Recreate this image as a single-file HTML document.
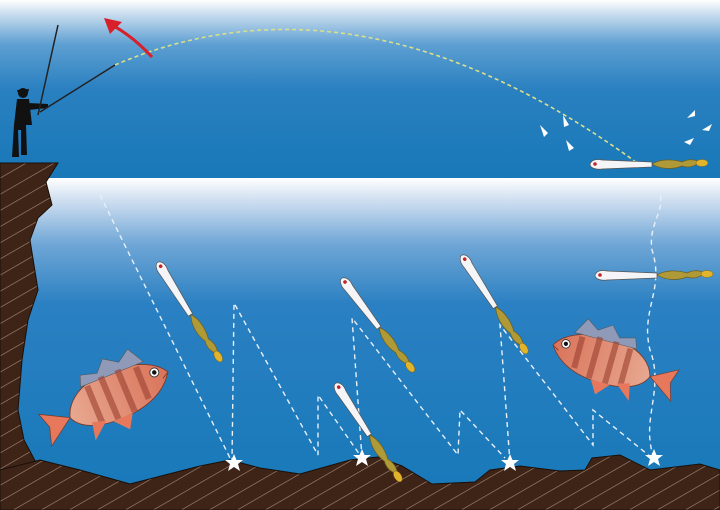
<!DOCTYPE html>
<html><head><meta charset="utf-8"><style>html,body{margin:0;padding:0;width:720px;height:510px;overflow:hidden;background:#fff}</style></head>
<body>
<svg width="720" height="510" viewBox="0 0 720 510" xmlns="http://www.w3.org/2000/svg">
<defs>
<linearGradient id="sky" x1="0" y1="0" x2="0" y2="1">
<stop offset="0" stop-color="#ffffff"/><stop offset="0.08" stop-color="#c8dcee"/><stop offset="0.25" stop-color="#5d9fd2"/><stop offset="0.5" stop-color="#2a80c0"/><stop offset="1" stop-color="#1878b8"/></linearGradient>
<linearGradient id="water" x1="0" y1="0" x2="0" y2="1">
<stop offset="0" stop-color="#ffffff"/><stop offset="0.06" stop-color="#d4e2f2"/><stop offset="0.2" stop-color="#6fa6d6"/><stop offset="0.38" stop-color="#2a80c2"/><stop offset="1" stop-color="#1678b8"/></linearGradient>
<pattern id="rock" width="14" height="14" patternUnits="userSpaceOnUse" patternTransform="rotate(-30)">
<rect width="14" height="14" fill="#3e2417"/><line x1="0" y1="0" x2="14" y2="0" stroke="#a88a78" stroke-width="1.2"/></pattern>
<linearGradient id="fishg" x1="0" y1="0" x2="1" y2="0"><stop offset="0" stop-color="#d9735a"/><stop offset="1" stop-color="#e8a890"/></linearGradient>
<g id="lure">
<path d="M0,0 C2,-5 8,-5 12,-4 L62,-2 L62,3 L12,5 C6,6 0,4 0,0Z" fill="#f5f5f7" stroke="#555" stroke-width="0.7"/>
<circle cx="5" cy="0" r="1.8" fill="#c0262b"/>
<path d="M62,0 C70,-5 82,-5 92,-2 C98,-5 104,-5 110,-2 C104,3 98,4 92,2 C82,6 70,5 62,0Z" fill="#b09a38" stroke="#6d5e1a" stroke-width="0.7"/>
<ellipse cx="112" cy="-1" rx="6" ry="3.5" fill="#e2b42c" stroke="#8a6a10" stroke-width="0.5"/>
</g>
<g id="fish">
<path d="M0,0 C10,-20 45,-32 80,-28 C100,-25 115,-15 120,0 C115,15 95,24 70,25 C40,27 15,20 0,0Z" fill="url(#fishg)" stroke="#7a3a2a" stroke-width="1"/>
<path d="M20,-22 L30,-42 L45,-33 L60,-44 L72,-32 L90,-38 L95,-26Z" fill="#8f9ab8" stroke="#555" stroke-width="0.6"/>
<path d="M30,-20 L32,18 M50,-26 L52,24 M70,-27 L72,24 M88,-24 L90,20" stroke="#9a4030" stroke-width="7" opacity="0.6"/>
<path d="M120,0 L150,-18 L145,0 L152,20Z" fill="#e7785c" stroke="#7a3a2a" stroke-width="0.8"/>
<path d="M55,25 L65,40 L78,24Z M85,20 L105,35 L100,15Z" fill="#e7785c"/>
<circle cx="14" cy="-6" r="5" fill="#fff" stroke="#333"/><circle cx="14" cy="-6" r="2.5" fill="#111"/>
<path d="M0,0 L8,4" stroke="#7a3a2a"/>
</g>
</defs>
<rect width="720" height="178" fill="url(#sky)"/>
<rect y="178" width="720" height="332" fill="url(#water)"/>
<path d="M115,65 Q360,-40 640,165" fill="none" stroke="#d8e08a" stroke-width="1.6" stroke-dasharray="4,3"/>
<path d="M152,57 C138,42 125,32 112,25" fill="none" stroke="#d8202a" stroke-width="3"/>
<path d="M104,18 L122,22 L110,34Z" fill="#d8202a"/>
<g fill="#fff"><path d="M540,125 l8,8 l-4,4z"/><path d="M563,115 l6,10 l-5,2z"/><path d="M566,140 l8,8 l-5,3z"/><path d="M687,118 l8,-8 l0,6z"/><path d="M702,130 l10,-6 l-3,7z"/><path d="M684,142 l10,-4 l-4,7z"/></g>
<g fill="#111">
<circle cx="23" cy="93" r="5"/><path d="M17,90 L29,89 L28,93 L18,93Z"/>
<path d="M17,99 L29,99 L32,125 L26,125 L27,155 L21,155 L21,130 L18,130 L19,157 L12,157 L14,125 Z"/>
<path d="M28,103 L48,104 L48,108 L28,110Z"/>
</g>
<path d="M38,115 L58,25" stroke="#222" stroke-width="1.5"/>
<path d="M40,112 L115,65" stroke="#222" stroke-width="1.5"/>
<path d="M0,163 L58,163 L46,182 L52,205 L38,218 L30,240 L38,290 L28,320 L22,360 L18,410 L24,440 L40,470 L0,470Z" fill="url(#rock)" stroke="#1a0f08" stroke-width="1"/>
<g fill="none" stroke="#e8f0f8" stroke-width="1.4" stroke-dasharray="5,4">
<path d="M100,195 L232,462 L234,303 L318,455 L318,395 L360,455"/>
<path d="M362,458 L352,318 L458,455 L460,410 L505,458"/>
<path d="M510,463 L500,325 L593,445 L593,410 L652,458"/>
<path d="M654,458 C640,420 665,390 650,350 C640,310 665,290 652,250 C648,225 665,210 660,195"/>
</g>
<path d="M0,470 L40,460 L80,470 L130,484 L200,466 L230,460 L260,468 L300,474 L350,460 L378,457 L402,466 L432,484 L475,482 L490,470 L520,466 L560,471 L585,470 L592,458 L620,455 L650,470 L700,464 L720,470 L720,510 L0,510Z" fill="url(#rock)" stroke="#1a0f08"/>
<g fill="#fff">
<polygon points="234,454 236.5,460 243,460 238,464 240,471 234,467 228,471 230,464 225,460 231.5,460"/>
<polygon points="362,449 364.5,455 371,455 366,459 368,466 362,462 356,466 358,459 353,455 359.5,455"/>
<polygon points="510,454 512.5,460 519,460 514,464 516,471 510,467 504,471 506,464 501,460 507.5,460"/>
<polygon points="654,449 656.5,455 663,455 658,459 660,466 654,462 648,466 650,459 645,455 651.5,455"/>
</g>
<use href="#lure" transform="translate(590,164)"/>
<use href="#lure" transform="translate(595,275)"/>
<use href="#lure" transform="translate(158,262) rotate(58)"/>
<use href="#lure" transform="translate(342,278) rotate(53)"/>
<use href="#lure" transform="translate(336,383) rotate(57)"/>
<use href="#lure" transform="translate(462,255) rotate(57)"/>
<use href="#fish" transform="translate(168,372) scale(-0.9,0.9) rotate(25)"/>
<use href="#fish" transform="translate(553,345) scale(0.85) rotate(18)"/>
</svg>
</body></html>
